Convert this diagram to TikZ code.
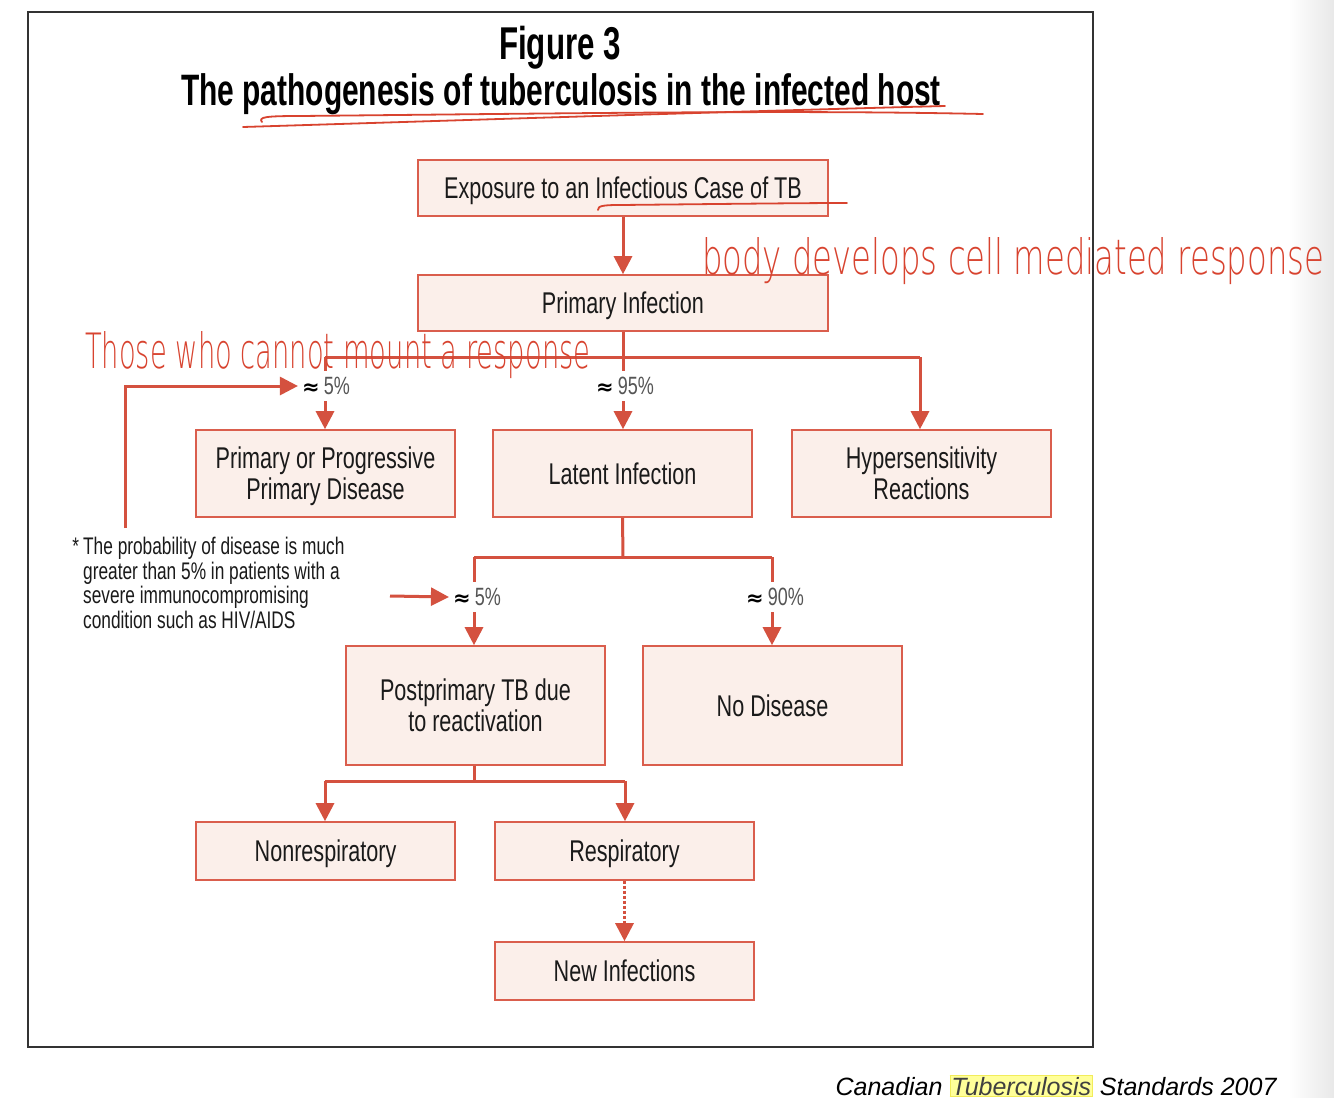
\documentclass[tikz,border=0pt]{standalone}
\usepackage{fontspec}
\setmainfont{Liberation Sans}
\newfontfamily\cond[FakeStretch=0.72]{Liberation Sans}
\newfontfamily\titlef[FakeStretch=0.68]{Liberation Sans}
\newfontfamily\handf[FakeStretch=0.5]{DejaVu Sans ExtraLight}
\newfontfamily\symf{DejaVu Sans}
\usetikzlibrary{arrows.meta}
\definecolor{linered}{HTML}{D4513F}
\definecolor{boxfill}{HTML}{FBEFEA}
\definecolor{boxdraw}{HTML}{DA5E4D}
\definecolor{handred}{HTML}{D8432F}
\definecolor{txt}{HTML}{1A1A1A}
\definecolor{pctgray}{HTML}{555555}
\definecolor{framegray}{HTML}{333333}
\definecolor{hl}{HTML}{FFFF99}
\definecolor{hlb}{HTML}{F2EC5A}
\tikzset{
  flowbox/.style={draw=boxdraw, fill=boxfill, line width=1.6pt, align=center,
    text=txt, font=\cond\fontsize{30}{31}\selectfont, inner sep=0pt, minimum width=259pt,
    text depth=0pt},
  conn/.style={draw=linered, line width=3pt},
  arr/.style={conn, -{Triangle[width=18pt,length=18pt]}},
  pct/.style={text=pctgray, font=\cond\fontsize{25}{26}\selectfont, inner sep=0pt, minimum height=30pt},
  handtext/.style={text=handred, inner sep=0pt, anchor=base west},
  handstroke/.style={draw=handred, line width=1.8pt, line cap=round, line join=round},
}
\newcommand{\apx}{{\symf\bfseries\fontsize{21}{21}\selectfont\color{black}≈}\,}
\begin{document}
\begin{tikzpicture}[x=1pt,y=-1pt]
\useasboundingbox (0,0) rectangle (1334,1098);
\fill[white] (0,0) rectangle (1334,1098);
\shade[left color=white, right color=black!9] (1288,0) rectangle (1334,1098);

% frame
\draw[line width=2pt, framegray] (28,12) rectangle (1093,1047);

% titles
\node[anchor=base, font=\titlef\bfseries\fontsize{46}{46}\selectfont, text=black, inner sep=0pt] (fig) at (560,59) {Figure 3};
\node[anchor=base, font=\titlef\bfseries\fontsize{44}{44}\selectfont, text=black, inner sep=0pt] (title) at (561,105) {The pathogenesis of tuberculosis in the infected host};

% boxes
\node[flowbox, minimum width=410pt, minimum height=56pt] (expo) at (623,188) {Exposure to an Infectious Case of TB};
\node[flowbox, minimum width=410pt, minimum height=56pt] (prim) at (623,303) {Primary Infection};
\node[flowbox, minimum height=87pt] (ppd) at (325.5,473.5) {Primary or Progressive\\Primary Disease};
\node[flowbox, minimum height=87pt] (latent) at (622.5,473.5) {Latent Infection};
\node[flowbox, minimum height=87pt] (hyper) at (921.5,473.5) {Hypersensitivity\\Reactions};
\node[flowbox, minimum height=119pt] (post) at (475.5,705.5) {Postprimary TB due\\to reactivation};
\node[flowbox, minimum height=119pt] (nodis) at (772.5,705.5) {No Disease};
\node[flowbox, minimum height=58pt] (nonresp) at (325.5,851) {Nonrespiratory};
\node[flowbox, minimum height=58pt] (resp) at (624.5,851) {Respiratory};
\node[flowbox, minimum height=58pt] (newinf) at (624.5,971) {New Infections};

% percentage labels
\node[pct] (l5a) at (326,386) {\apx 5\%};
\node[pct] (l95) at (625,386) {\apx 95\%};
\node[pct] (l5b) at (477,597) {\apx 5\%};
\node[pct] (l90) at (775,597) {\apx 90\%};

% junction coordinates
\coordinate (j1) at (623,357);
\coordinate (j1l) at (325,357);
\coordinate (j1r) at (920,357);
\coordinate (j2) at (623,557);
\coordinate (j2l) at (474,557);
\coordinate (j2r) at (772,557);
\coordinate (j3) at (474,781);
\coordinate (j3l) at (325,781);
\coordinate (j3r) at (625,781);
\coordinate (fa) at (125,528);
\coordinate (fb) at (390,596);

% connectors
\draw[arr] (expo.south) -- (prim.north);
\draw[conn] (prim.south) -- (j1 |- l95.north);
\draw[conn] (j1l) -- (j1r);
\draw[arr] (j1r) -- (j1r |- hyper.north);
\draw[conn] (j1l) -- (j1l |- l5a.north);
\draw[arr] (j1l |- l5a.south) -- (j1l |- ppd.north);
\draw[arr] (j1 |- l95.south) -- (j1 |- latent.north);
\draw[arr] (fa) |- ([xshift=-4pt]l5a.west);

\draw[conn] (latent.south) -- (j2);
\draw[conn] (j2l) -- (j2r);
\draw[conn] (j2l) -- (j2l |- l5b.north);
\draw[conn] (j2r) -- (j2r |- l90.north);
\draw[arr] (j2l |- l5b.south) -- (j2l |- post.north);
\draw[arr] (j2r |- l90.south) -- (j2r |- nodis.north);
\draw[arr] (fb) -- ([xshift=-4pt]l5b.west);

\draw[conn] (j3 |- post.south) -- (j3);
\draw[conn] (j3l) -- (j3r);
\draw[arr] (j3l) -- (j3l |- nonresp.north);
\draw[arr] (j3r) -- (j3r |- resp.north);
\draw[arr, dash pattern=on 3pt off 2pt] (resp.south) -- (newinf.north);

% footnote
\node[anchor=north west, align=left, inner sep=0pt, text=txt,
  font=\cond\fontsize{24}{24.5}\selectfont] (foot) at (83,537)
  {\llap{*\,}The probability of disease is much\\greater than 5\% in patients with a\\severe immunocompromising\\condition such as HIV/AIDS};

% caption
\node[anchor=base, inner sep=0pt, text=black, font=\itshape\fontsize{25}{25}\selectfont] (cap) at (1056,1095)
  {Canadian {\fboxsep=1pt\fboxrule=0.8pt\fcolorbox{hlb}{hl}{\color{black!75}Tuberculosis}} Standards 2007};

% handwritten annotations
\node[handtext] (hw1) at (85,368) {\resizebox{505pt}{37pt}{\handf Those who cannot mount a response}};
\node[handtext] (hw2) at (702,274) {\resizebox{622pt}{37pt}{\handf body develops cell mediated response}};
\draw[handstroke] (243,127) .. controls (500,119) and (750,111) .. (945,106);
\draw[handstroke] (262,122) .. controls (258,117) and (266,116) .. (300,116) .. controls (600,113) and (800,110) .. (983,114);
\draw[handstroke] (598,210) .. controls (598,206) and (602,205) .. (620,205) .. controls (720,204) and (800,203) .. (847,203);
\end{tikzpicture}
\end{document}
